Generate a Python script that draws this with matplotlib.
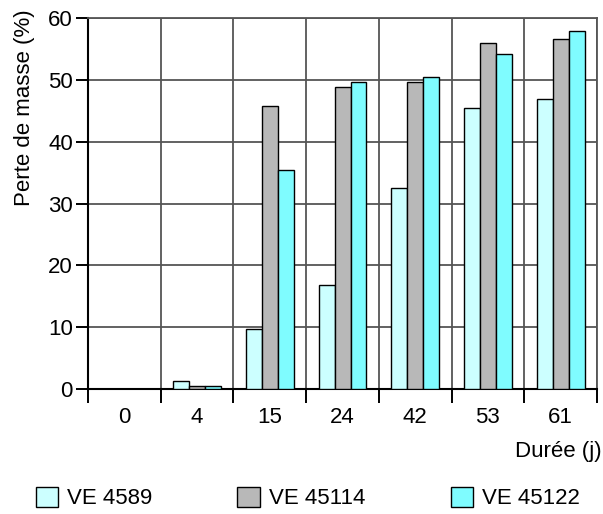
#!/usr/bin/env python3
"""Perte de masse par durée, trois vernis (barres groupées)."""

import numpy as np
import matplotlib
matplotlib.use("Agg")
import matplotlib.pyplot as plt
from matplotlib.patches import Patch

# === DATA ===
durations = ["0", "4", "15", "24", "42", "53", "61"]
series_names = ["VE 4589", "VE 45114", "VE 45122"]
ve_4589 = [0.0, 1.3, 9.7, 16.9, 32.5, 45.5, 46.9]
ve_45114 = [0.0, 0.5, 45.7, 48.9, 49.7, 55.9, 56.6]
ve_45122 = [0.0, 0.5, 35.4, 49.6, 50.4, 54.2, 57.9]

COLORS = ["#ccffff", "#b8b8b8", "#7ffcff"]
GRID_COLOR = "#555555"
FS = 16

plt.rcParams["font.family"] = ["Liberation Sans", "DejaVu Sans"]
plt.rcParams["font.size"] = FS

fig = plt.figure(figsize=(6.03, 5.14), dpi=100)
ax = fig.add_axes([0.146, 0.243, 0.844, 0.722])

x = np.arange(len(durations))
width = 0.22
series = [ve_4589, ve_45114, ve_45122]
for i, (vals, col) in enumerate(zip(series, COLORS)):
    ax.bar(x + (i - 1) * width, vals, width, color=col,
           edgecolor="black", linewidth=1.0, zorder=3)

ax.set_xlim(-0.5, len(durations) - 0.5)
ax.set_ylim(0, 60)
ax.set_yticks(range(0, 61, 10))

# category labels at centres, grid / tick marks at the boundaries
ax.set_xticks(x)
ax.set_xticklabels(durations)
ax.tick_params(axis="x", which="major", length=0, pad=13)
ax.set_xticks(np.arange(-0.5, len(durations)), minor=True)
ax.tick_params(axis="x", which="minor", length=10, width=1.4,
               direction="out", color="black")
ax.tick_params(axis="y", length=9, width=1.4, direction="out", pad=2)

ax.grid(True, axis="x", which="minor", color=GRID_COLOR, linewidth=1.3, zorder=1)
ax.grid(True, axis="y", which="major", color=GRID_COLOR, linewidth=1.3, zorder=1)
ax.set_axisbelow(True)

for side in ["top", "right"]:
    ax.spines[side].set_color(GRID_COLOR)
    ax.spines[side].set_linewidth(1.3)
for side in ["left", "bottom"]:
    ax.spines[side].set_linewidth(1.5)

# y label sits against the top of the plot, not centred
fig.text(25 / 603, 1 - 9 / 514, "Perte de masse (%)", rotation=90,
         ha="center", va="top", fontsize=FS)
fig.text(0.997, 1 - 452 / 514, "Durée (j)", ha="right", va="center", fontsize=FS)

handles = [Patch(facecolor=c, edgecolor="black", linewidth=1.0) for c in COLORS]
fig.legend(handles, series_names, loc="center", bbox_to_anchor=(0.51, 1 - 498 / 514),
           ncol=3, frameon=False, columnspacing=3.85, handlelength=1.0,
           handleheight=1.0, handletextpad=0.4, fontsize=FS)

fig.savefig("out.png", dpi=100)
